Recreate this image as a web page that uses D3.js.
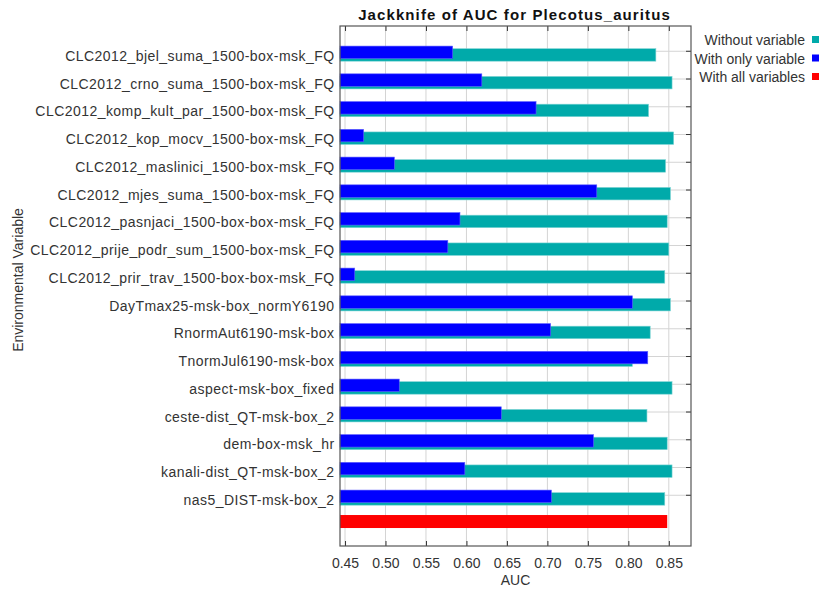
<!DOCTYPE html>
<html>
<head>
<meta charset="utf-8">
<script src="https://cdn.jsdelivr.net/npm/d3@7"></script>
<style>
  body { margin: 0; background: #fff; }
  text { font-family: 'Liberation Sans', Arial, sans-serif; fill: #333; }
</style>
</head>
<body>
<div id="chart"></div>
<script>
let variables = [
  'CLC2012_bjel_suma_1500-box-msk_FQ',
  'CLC2012_crno_suma_1500-box-msk_FQ',
  'CLC2012_komp_kult_par_1500-box-msk_FQ',
  'CLC2012_kop_mocv_1500-box-msk_FQ',
  'CLC2012_maslinici_1500-box-msk_FQ',
  'CLC2012_mjes_suma_1500-box-msk_FQ',
  'CLC2012_pasnjaci_1500-box-box-msk_FQ',
  'CLC2012_prije_podr_sum_1500-box-msk_FQ',
  'CLC2012_prir_trav_1500-box-box-msk_FQ',
  'DayTmax25-msk-box_normY6190',
  'RnormAut6190-msk-box',
  'TnormJul6190-msk-box',
  'aspect-msk-box_fixed',
  'ceste-dist_QT-msk-box_2',
  'dem-box-msk_hr',
  'kanali-dist_QT-msk-box_2',
  'nas5_DIST-msk-box_2'
];

let withoutVariable = [0.834, 0.854, 0.825, 0.856, 0.846, 0.852, 0.848, 0.850, 0.845,
  0.852, 0.827, 0.805, 0.854, 0.823, 0.848, 0.854, 0.845];

let withOnlyVariable = [0.583, 0.619, 0.686, 0.473, 0.511, 0.761, 0.592, 0.577, 0.462,
  0.805, 0.704, 0.824, 0.517, 0.643, 0.757, 0.598, 0.705];

let withAllVariables = 0.848;

let xTicks = [0.45, 0.50, 0.55, 0.60, 0.65, 0.70, 0.75, 0.80, 0.85];

let legendLabels = ['Without variable', 'With only variable', 'With all variables'];
let legendColors = ['#00aaaa', '#0000ff', '#ff0000'];

let margin = { top: 26, right: 139, bottom: 44, left: 340 },
  width = 830 - margin.left - margin.right,
  height = 590 - margin.top - margin.bottom;

let svg = d3.select('#chart')
  .append('svg')
  .attr('width', 830)
  .attr('height', 590)
  .append('g')
  .attr('transform', `translate(${margin.left}, ${margin.top})`);

let x = d3.scaleLinear()
  .domain([0.4438, 0.8774])
  .range([0, width]);

// last band holds the "all variables" bar
let y = d3.scaleBand()
  .domain(variables.concat(['all']))
  .range([11.4, 11.4 + 18 * 27.75]);

let mid = (d) => y(d) + y.bandwidth() / 2;

// grid
svg.append('g')
  .selectAll('line')
  .data(xTicks)
  .enter()
  .append('line')
  .attr('x1', (d) => x(d))
  .attr('x2', (d) => x(d))
  .attr('y1', 0)
  .attr('y2', height)
  .style('stroke', '#d4d4d4');

svg.append('g')
  .selectAll('line')
  .data(variables)
  .enter()
  .append('line')
  .attr('x1', 0)
  .attr('x2', width)
  .attr('y1', (d) => mid(d))
  .attr('y2', (d) => mid(d))
  .style('stroke', '#d4d4d4');

// bars
svg.append('g')
  .selectAll('rect')
  .data(variables)
  .enter()
  .append('rect')
  .attr('x', 0)
  .attr('y', (d) => mid(d) - 2.6)
  .attr('width', (d, i) => x(withoutVariable[i]))
  .attr('height', 12.5)
  .style('fill', legendColors[0])
  .style('stroke', '#7fd4d4')
  .style('stroke-width', 0.6);

svg.append('g')
  .selectAll('rect')
  .data(variables)
  .enter()
  .append('rect')
  .attr('x', 0)
  .attr('y', (d) => mid(d) - 5.2)
  .attr('width', (d, i) => x(withOnlyVariable[i]))
  .attr('height', 12.5)
  .style('fill', legendColors[1])
  .style('stroke', '#6060ff')
  .style('stroke-width', 0.6);

svg.append('rect')
  .attr('x', 0)
  .attr('y', mid('all') - 8)
  .attr('width', x(withAllVariables))
  .attr('height', 13)
  .style('fill', legendColors[2]);

// axes
let axisB = svg.append('g')
  .attr('transform', `translate(0,${height})`)
  .call(d3.axisBottom(x).tickValues(xTicks).tickFormat(d3.format('.2f'))
    .tickSizeInner(-5).tickSizeOuter(0).tickPadding(12));

let axisT = svg.append('g')
  .call(d3.axisTop(x).tickValues(xTicks).tickFormat('')
    .tickSizeInner(-5).tickSizeOuter(0));

let axisR = svg.append('g')
  .attr('transform', `translate(${width},0)`)
  .call(d3.axisRight(y).tickValues(variables).tickFormat('')
    .tickSizeInner(-5).tickSizeOuter(0));

let axisL = svg.append('g')
  .call(d3.axisLeft(y).tickValues(variables)
    .tickSizeInner(0).tickSizeOuter(0).tickPadding(5.5));

[axisB, axisT, axisR, axisL].forEach((g) => {
  g.select('.domain').remove();
  g.selectAll('.tick line').style('stroke', '#333');
});

axisB.selectAll('text')
  .style('font-size', '14px')
  .style('fill', '#333');

axisL.selectAll('text')
  .attr('dy', 0)
  .attr('y', 9.5)
  .style('font-size', '14px')
  .style('letter-spacing', '0.45px')
  .style('fill', '#333');

// frame
svg.append('rect')
  .attr('width', width)
  .attr('height', height)
  .style('fill', 'none')
  .style('stroke', '#555')
  .style('stroke-width', 1.2);

// titles
svg.append('text')
  .attr('x', width / 2 - 1)
  .attr('y', -6)
  .attr('text-anchor', 'middle')
  .style('font-size', '15px')
  .style('font-weight', 'bold')
  .style('letter-spacing', '1.1px')
  .style('fill', '#111')
  .text('Jackknife of AUC for Plecotus_auritus');

svg.append('text')
  .attr('x', width / 2)
  .attr('y', height + 39)
  .attr('text-anchor', 'middle')
  .style('font-size', '14px')
  .text('AUC');

svg.append('text')
  .attr('transform', `translate(${-margin.left + 23}, 254) rotate(-90)`)
  .attr('text-anchor', 'middle')
  .style('font-size', '14px')
  .text('Environmental Variable');

// legend
let legend = svg.append('g')
  .attr('transform', `translate(${width}, 0)`)
  .selectAll('g')
  .data(legendLabels)
  .enter()
  .append('g')
  .attr('transform', (d, i) => `translate(0, ${i * 18.5})`);

legend.append('text')
  .attr('x', 114)
  .attr('y', 19)
  .attr('text-anchor', 'end')
  .style('font-size', '14px')
  .text((d) => d);

legend.append('rect')
  .attr('x', 121)
  .attr('y', 10)
  .attr('width', 7)
  .attr('height', 7)
  .style('fill', (d, i) => legendColors[i]);
</script>
</body>
</html>
